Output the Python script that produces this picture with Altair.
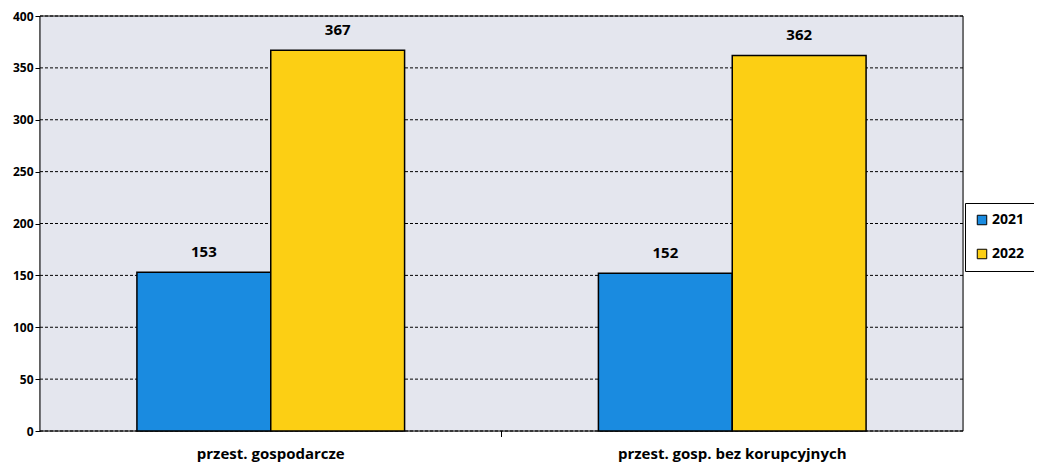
import altair as alt
import pandas as pd

categories = ["przest. gospodarcze", "przest. gosp. bez  korupcyjnych"]
years = ["2021", "2022"]
values_2021 = [153, 152]
values_2022 = [367, 362]
y_ticks = [0, 50, 100, 150, 200, 250, 300, 350, 400]

rows = []
for i, c in enumerate(categories):
    rows.append({"cat": c, "year": "2021", "value": values_2021[i]})
    rows.append({"cat": c, "year": "2022", "value": values_2022[i]})
df = pd.DataFrame(rows)
grid_df = pd.DataFrame({"value": y_ticks})

FONT = "Open Sans"
W, H = 923, 415

bg = alt.Chart(pd.DataFrame({"a": [0]})).mark_rect(
    fill="#e4e6ee", stroke="black", strokeWidth=1).encode(
    x=alt.value(0), x2=alt.value(W), y=alt.value(0), y2=alt.value(H))

y_scale = alt.Scale(domain=[0, 400], nice=False)

grid = alt.Chart(grid_df).mark_rule(color="black", strokeDash=[3, 2], strokeWidth=1).encode(
    y=alt.Y("value:Q", scale=y_scale), x=alt.value(0), x2=alt.value(W))

x = alt.X("cat:N", sort=categories, title=None,
          scale=alt.Scale(paddingInner=0.42, paddingOuter=0.21),
          axis=alt.Axis(labelAngle=0, labelFontSize=15, labelFontWeight="bold",
                        labelFont=FONT, labelColor="black", labelPadding=15,
                        labelLimit=400, domain=False, ticks=False, grid=False))
y = alt.Y("value:Q", title=None, scale=y_scale,
          axis=alt.Axis(values=y_ticks, labelFontSize=12, labelFontWeight="bold",
                        labelFont=FONT, labelColor="black", domainColor="black",
                        domainWidth=1.5, tickColor="black", tickSize=5, grid=False))

color = alt.Color("year:N", sort=years,
                  scale=alt.Scale(domain=years, range=["#1a8be0", "#fccf14"]),
                  legend=alt.Legend(title=None, orient="none", legendX=925, legendY=187,
                                    symbolType="square", symbolSize=90,
                                    symbolStrokeColor="black", symbolStrokeWidth=1,
                                    labelFontSize=14, labelFontWeight="bold", labelFont=FONT,
                                    labelColor="black", rowPadding=20, labelOffset=3,
                                    strokeColor="black", fillColor="white",
                                    padding=10))

bars = alt.Chart(df).mark_bar(stroke="black", strokeWidth=1.5).encode(
    x=x, xOffset=alt.XOffset("year:N", sort=years, scale=alt.Scale(paddingInner=0.0)),
    y=y, color=color)

labels = alt.Chart(df).mark_text(dy=-12, baseline="bottom", fontSize=15,
                                  fontWeight="bold", font=FONT, color="black").encode(
    x=alt.X("cat:N", sort=categories),
    xOffset=alt.XOffset("year:N", sort=years),
    y="value:Q", text="value:Q")

tick = alt.Chart(pd.DataFrame({"a": [0]})).mark_rule(color="black").encode(
    x=alt.value(W / 2), y=alt.value(H), y2=alt.value(H + 6))

chart = alt.layer(bg, grid, bars, labels, tick).properties(
    width=W, height=H,
    autosize=alt.AutoSizeParams(type="none"),
    padding={"left": 32, "top": 8, "right": 71, "bottom": 38},
).configure_view(stroke=None).configure(background="white")

chart.save("out.html", embed_options={"renderer": "svg", "actions": False})
